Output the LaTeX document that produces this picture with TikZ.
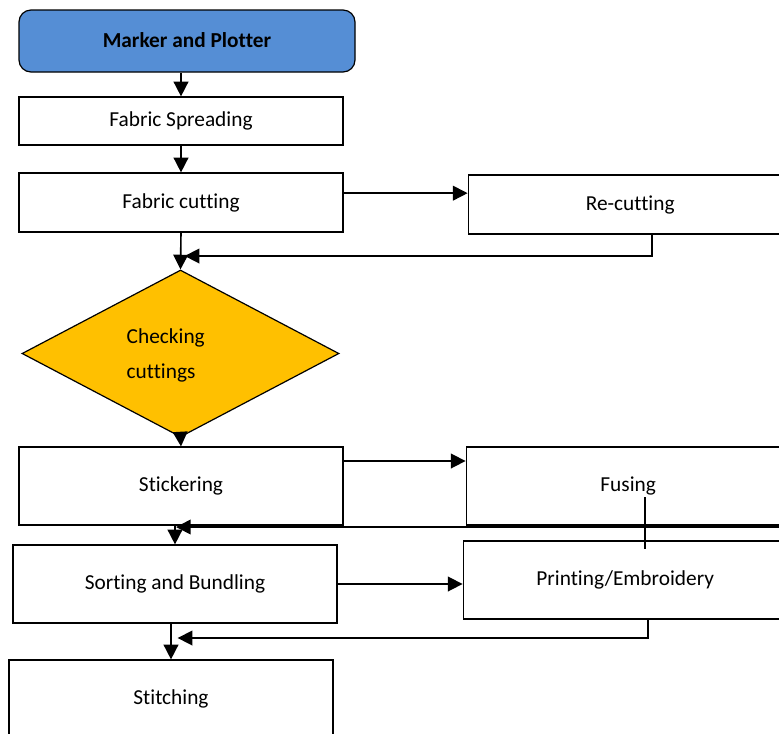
\documentclass[tikz,border=0pt]{standalone}
\usepackage{fontspec}
\setmainfont[Ligatures=NoCommon]{Carlito}
\usepackage{xcolor}
\usetikzlibrary{arrows.meta, positioning, shapes.geometric}
\definecolor{plotblue}{HTML}{558ED5}
\definecolor{checkgold}{HTML}{FFC000}

\begin{document}
\begin{tikzpicture}[
  x=0.75pt, y=-0.75pt,
  font=\fontsize{16}{19}\selectfont,
  stage/.style={rectangle, draw, line width=0.9pt, minimum width=243pt, minimum height=58.5pt, inner sep=0pt},
  start/.style={stage, rounded corners=9pt, fill=plotblue, minimum width=252pt, minimum height=46.5pt, font=\fontsize{16}{19}\selectfont\bfseries},
  check/.style={diamond, draw, line width=0.9pt, fill=checkgold, minimum width=237.75pt, minimum height=125.25pt, inner sep=0pt},
  edge/.style={-{Triangle[length=11pt, width=11pt]}, line width=1.2pt},
  line/.style={line width=1.2pt}
]
\useasboundingbox (0,0) rectangle (779,733);
\clip (0,0) rectangle (779,733);

\node[start] (mark) at (187,41) {\raisebox{1.5pt}{Marker and Plotter}};
\node[stage, minimum height=36pt] (spread) at (181,121) {Fabric Spreading};
\node[stage, minimum height=44.25pt] (cut) at (181,202.5) {\raisebox{2pt}{Fabric cutting}};
\node[stage, minimum height=44.25pt, right=93pt of cut, yshift=-1.5pt] (recut) {Re-cutting};
\node[check] (chk) at (180.5,353.5) {};
\node[anchor=west, align=left, font=\fontsize{16}{26.25}\selectfont] (chktxt) at (122,355) {Checking\\cuttings};
\node[stage] (stick) at (181,486) {Stickering};
\node[stage, right=91.5pt of stick] (fuse) {Fusing};
\node[stage] (sort) at (175,584) {Sorting and Bundling};
\node[stage, right=93.75pt of sort, yshift=3pt] (print) {Printing/Embroidery};
\node[stage] (stitch) at (171,699) {Stitching};

\coordinate (rcj) at (180,256);
\coordinate (fr) at (790,527);
\coordinate (fj) at (176,527);
\coordinate (fa) at (645,497);
\coordinate (fb) at (645,549);
\coordinate (pj) at (173,638);

\draw[edge] (spread.north |- mark.south) -- (spread.north);
\draw[edge] (spread.south) -- (cut.north);
\draw[edge] ([yshift=7pt]cut.east) -- ([yshift=7pt]cut.east -| recut.west);
\draw[edge, shorten >=3.5pt] ([xshift=16.5pt]recut.south) |- (rcj);
\draw[edge] (cut.south) -- (chk.north);
\draw[edge] (chk.south) -- (stick.north);
\draw[edge] ([yshift=18.75pt]stick.east) -- ([yshift=18.75pt]stick.east -| fuse.west);
\draw[edge] (fr) -- (fj);
\draw[line] (fa) -- (fb);
\draw[edge] (sort.north |- stick.south) -- (sort.north);
\draw[edge] (sort.east) -- (sort.east -| print.west);
\draw[edge, shorten >=3.5pt] ([xshift=17.25pt]print.south) |- (pj);
\draw[edge] (stitch.north |- sort.south) -- (stitch.north);
\end{tikzpicture}
\end{document}
